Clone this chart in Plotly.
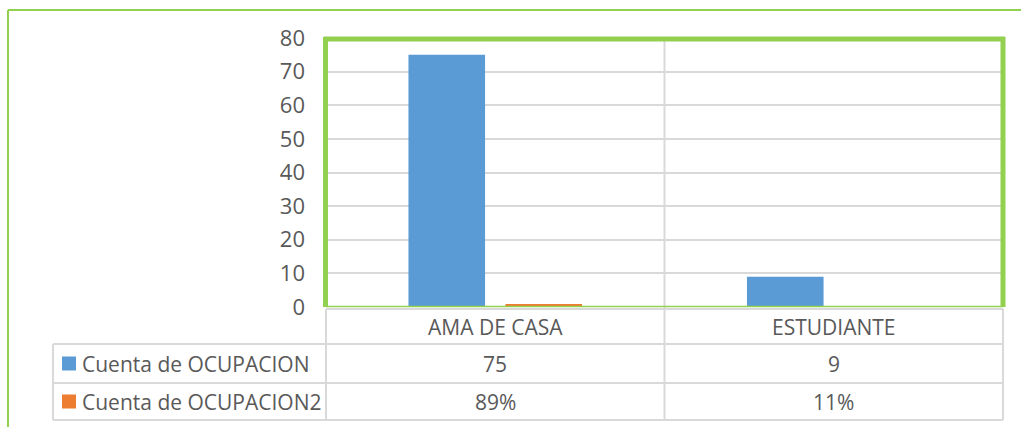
import plotly.graph_objects as go

categories = ["AMA DE CASA", "ESTUDIANTE"]
series_names = ["Cuenta de OCUPACION", "Cuenta de OCUPACION2"]
counts = [75, 9]
shares = [0.89, 0.11]
y_ticks = [0, 10, 20, 30, 40, 50, 60, 70, 80]

BLUE = "#5b9bd5"
ORANGE = "#ed7d31"
GREEN = "#92d050"
GRID = "#d9d9d9"
TEXT = "#595959"
FONT = "Open Sans"

W, H = 1021, 427


def py(y):
    return 1 - y / H


def px(x):
    return x / W


PLOT_L, PLOT_R, PLOT_T, PLOT_B = 326, 1003, 38, 307
ROW_Y = [309, 344, 383, 420]
TABLE_L = 53

fig = go.Figure()
fig.add_trace(go.Bar(x=categories, y=counts, name=series_names[0],
                     marker=dict(color=BLUE, line=dict(width=0))))
fig.add_trace(go.Bar(x=categories, y=shares, name=series_names[1],
                     marker=dict(color=ORANGE, line=dict(width=0))))

shapes = []
# outer chart border (thin green)
shapes.append(dict(type="line", xref="paper", yref="paper", x0=px(8), x1=px(1030),
                   y0=py(10), y1=py(10), line=dict(color=GREEN, width=2)))
shapes.append(dict(type="line", xref="paper", yref="paper", x0=px(8), x1=px(8),
                   y0=py(10), y1=py(440), line=dict(color=GREEN, width=2)))

# vertical category boundary through plot and table
shapes.append(dict(type="line", xref="x", yref="paper", x0=0.5, x1=0.5,
                   y0=py(PLOT_T), y1=py(ROW_Y[-1]), line=dict(color=GRID, width=2), layer="below"))

# table lines
shapes.append(dict(type="line", xref="paper", yref="paper", x0=px(PLOT_L), x1=px(PLOT_R),
                   y0=py(ROW_Y[0]), y1=py(ROW_Y[0]), line=dict(color=GRID, width=2)))
for yy in ROW_Y[1:]:
    shapes.append(dict(type="line", xref="paper", yref="paper", x0=px(TABLE_L), x1=px(PLOT_R),
                       y0=py(yy), y1=py(yy), line=dict(color=GRID, width=2)))
shapes.append(dict(type="line", xref="paper", yref="paper", x0=px(TABLE_L), x1=px(TABLE_L),
                   y0=py(ROW_Y[1]), y1=py(ROW_Y[-1]), line=dict(color=GRID, width=2)))
shapes.append(dict(type="line", xref="paper", yref="paper", x0=px(PLOT_L), x1=px(PLOT_L),
                   y0=py(ROW_Y[0]), y1=py(ROW_Y[-1]), line=dict(color=GRID, width=2)))
shapes.append(dict(type="line", xref="paper", yref="paper", x0=px(PLOT_R), x1=px(PLOT_R),
                   y0=py(ROW_Y[0]), y1=py(ROW_Y[-1]), line=dict(color=GRID, width=2)))

# plot area border (green)
shapes.append(dict(type="line", xref="paper", yref="paper", x0=px(PLOT_L - 2), x1=px(PLOT_R + 2),
                   y0=py(PLOT_T + 1), y1=py(PLOT_T + 1), line=dict(color=GREEN, width=5)))
shapes.append(dict(type="line", xref="paper", yref="paper", x0=px(PLOT_L - 0.5), x1=px(PLOT_L - 0.5),
                   y0=py(PLOT_T - 1), y1=py(PLOT_B), line=dict(color=GREEN, width=5)))
shapes.append(dict(type="line", xref="paper", yref="paper", x0=px(PLOT_R), x1=px(PLOT_R),
                   y0=py(PLOT_T - 1), y1=py(PLOT_B), line=dict(color=GREEN, width=5)))
shapes.append(dict(type="line", xref="paper", yref="paper", x0=px(PLOT_L), x1=px(PLOT_R),
                   y0=py(PLOT_B - 0.5), y1=py(PLOT_B - 0.5), line=dict(color=GREEN, width=1.5)))

# legend keys
key_colors = [BLUE, ORANGE]
row_centers = [(ROW_Y[i] + ROW_Y[i + 1]) / 2 for i in range(len(ROW_Y) - 1)]
for i, c in enumerate(key_colors):
    yc = row_centers[i + 1]
    shapes.append(dict(type="rect", xref="paper", yref="paper", x0=px(62), x1=px(76),
                       y0=py(yc + 7), y1=py(yc - 7), fillcolor=c, line=dict(width=0)))

FS = 21
annotations = []
for cat in categories:
    annotations.append(dict(x=cat, xref="x", y=py(row_centers[0]), yref="paper", text=cat,
                            showarrow=False, font=dict(family=FONT, size=FS, color=TEXT),
                            xanchor="center", yanchor="middle"))
for cat, v in zip(categories, counts):
    annotations.append(dict(x=cat, xref="x", y=py(row_centers[1]), yref="paper", text=str(v),
                            showarrow=False, font=dict(family=FONT, size=FS, color=TEXT),
                            xanchor="center", yanchor="middle"))
for cat, v in zip(categories, shares):
    annotations.append(dict(x=cat, xref="x", y=py(row_centers[2]), yref="paper",
                            text=f"{round(v * 100)}%",
                            showarrow=False, font=dict(family=FONT, size=FS, color=TEXT),
                            xanchor="center", yanchor="middle"))
for i, name in enumerate(series_names):
    annotations.append(dict(x=px(80), xref="paper", y=py(row_centers[i + 1]), yref="paper",
                            text=name, showarrow=False,
                            font=dict(family=FONT, size=FS, color=TEXT),
                            xanchor="left", yanchor="middle"))

fig.update_layout(
    width=W, height=H,
    margin=dict(l=0, r=0, t=0, b=0, pad=0, autoexpand=False),
    paper_bgcolor="white", plot_bgcolor="white",
    showlegend=False,
    barmode="group", bargap=0.427, bargroupgap=0.21,
    shapes=shapes, annotations=annotations,
    xaxis=dict(domain=[px(PLOT_L), px(PLOT_R)], type="category", range=[-0.5, 1.5],
               showticklabels=False, showgrid=False, zeroline=False, showline=False,
               automargin=False, fixedrange=True),
    yaxis=dict(domain=[py(PLOT_B), py(PLOT_T)], range=[0, 80], tickvals=y_ticks,
               showgrid=True, gridcolor=GRID, gridwidth=2, zeroline=False, showline=False,
               tickfont=dict(family=FONT, size=22, color=TEXT), ticklabelstandoff=20,
               automargin=False, fixedrange=True),
)

fig.write_html("out.html", config={"displayModeBar": False},
               post_script="document.body.style.margin='0';")
